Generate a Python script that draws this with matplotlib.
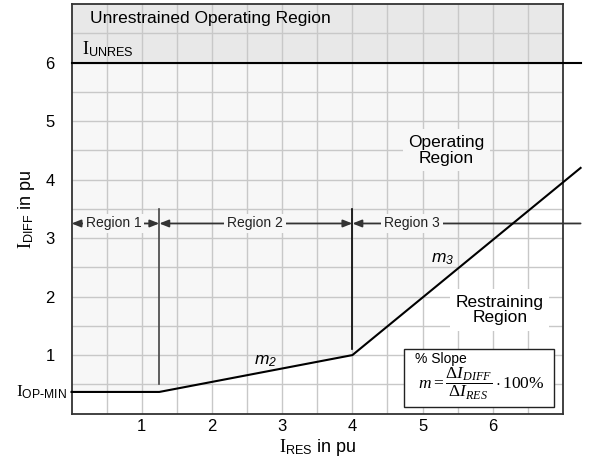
import matplotlib
matplotlib.use('Agg')
import matplotlib.pyplot as plt
from matplotlib.patches import Rectangle
from matplotlib.transforms import blended_transform_factory

plt.rcParams['font.family'] = ['Liberation Sans', 'DejaVu Sans']
plt.rcParams['mathtext.fontset'] = 'custom'
plt.rcParams['mathtext.rm'] = 'Liberation Serif'
plt.rcParams['mathtext.it'] = 'Liberation Serif:italic'
plt.rcParams['mathtext.sf'] = 'Liberation Sans'
plt.rcParams['mathtext.cal'] = 'Liberation Sans:italic'  # used for italic sans m2 / m3

# characteristic (pu)
char_x = [0, 1.25, 4.0, 7.25]
char_y = [0.37, 0.37, 1.0, 4.2]
i_unres = 6.0
i_op_min = 0.37
region_bounds = [0, 1.25, 4.0, 7.25]
region_names = ['Region 1', 'Region 2', 'Region 3']
xticks = [1, 2, 3, 4, 5, 6]
yticks = [1, 2, 3, 4, 5, 6]

fig = plt.figure(figsize=(6.14, 4.57), dpi=100)
ax = fig.add_axes([0.1165, 0.095, 0.8005, 0.896])
ax.set_xlim(0, 7)
ax.set_ylim(0, 7)
ax.set_facecolor('white')

# shaded regions
ax.axhspan(i_unres, 7, color='#e8e8e8', zorder=0, lw=0)
ax.fill_between(char_x, char_y, i_unres, color='#f7f7f7', zorder=0, lw=0)

# grid every 0.5
ax.set_xticks([v * 0.5 for v in range(1, 14)], minor=True)
ax.set_yticks([v * 0.5 for v in range(1, 14)], minor=True)
ax.set_xticks(xticks)
ax.set_yticks(yticks)
ax.set_axisbelow(True)
ax.grid(True, which='both', color='#c8c8c8', lw=1.0)
ax.tick_params(which='both', length=0)
ax.tick_params(axis='y', pad=12, labelsize=12)
ax.tick_params(axis='x', pad=4, labelsize=12)
for s in ax.spines.values():
    s.set_color('#333333')
    s.set_linewidth(1.3)

# characteristic + unres line
ax.plot(char_x, char_y, color='black', lw=1.5, clip_on=False, zorder=5)
ax.plot([0, 7.25], [i_unres, i_unres], color='black', lw=1.5, clip_on=False, zorder=5)

# region boundaries
ax.plot([1.25, 1.25], [0.5, 3.5], color='#444444', lw=1.2, zorder=4)
ax.plot([4.0, 4.0], [1.1, 3.5], color='black', lw=1.2, zorder=4)

# region arrows
arrow_y = 3.25
for i, name in enumerate(region_names):
    x0, x1 = region_bounds[i], region_bounds[i + 1]
    style = '<|-|>' if i < 2 else '<|-'
    ax.annotate('', xy=(x1, arrow_y), xytext=(x0, arrow_y),
                arrowprops=dict(arrowstyle=style + ',head_length=0.55,head_width=0.22',
                                color='#333333', lw=1.3, shrinkA=0, shrinkB=0),
                annotation_clip=False, zorder=4)
label_x = [0.6, 2.61, 4.85]
for lx, name in zip(label_x, region_names):
    ax.text(lx, arrow_y, name, ha='center', va='center', fontsize=10, color='#222222',
            bbox=dict(facecolor='#f7f7f7', edgecolor='none', pad=2), zorder=6)

# region texts
ax.text(0.26, 6.75, 'Unrestrained Operating Region', ha='left', va='center', fontsize=12.5)
ax.text(0.15, 6.07, r'$\mathrm{I}_{\mathsf{UNRES}}$', ha='left', va='bottom', fontsize=13)
ax.text(5.34, 4.5, 'Operating\nRegion', ha='center', va='center', fontsize=12.5,
        linespacing=1.05, bbox=dict(facecolor='#f7f7f7', edgecolor='none', pad=4), zorder=6)
ax.text(6.1, 1.77, 'Restraining\nRegion', ha='center', va='center', fontsize=12.5,
        linespacing=1.05, bbox=dict(facecolor='white', edgecolor='none', pad=4), zorder=6)

# slope labels
ax.text(2.76, 0.89, r'$\mathcal{m}_{\mathcal{2}}$', fontsize=12.5, ha='center', va='center', zorder=6)
ax.text(5.28, 2.64, r'$\mathcal{m}_{\mathcal{3}}$', fontsize=12.5, ha='center', va='center', zorder=6)

# I_OP-MIN label left of axis
trans = blended_transform_factory(ax.transAxes, ax.transData)
ax.text(-0.01, i_op_min, r'$\mathrm{I}_{\mathsf{OP\text{-}MIN}}$', transform=trans,
        ha='right', va='center', fontsize=12.5)

# slope formula box
ax.add_patch(Rectangle((4.74, 0.12), 2.13, 0.99, facecolor='white', edgecolor='#222222',
                       lw=1.0, zorder=6))
ax.text(4.89, 0.93, '% Slope', ha='left', va='center', fontsize=10, zorder=7)
ax.text(5.83, 0.5, r'$m = \dfrac{\Delta I_{DIFF}}{\Delta I_{RES}}\cdot 100\%$',
        ha='center', va='center', fontsize=12.5, zorder=7)

ax.set_xlabel(r'$\mathrm{I}_{\mathsf{RES}}$ in pu', fontsize=13, labelpad=2)
ax.set_ylabel(r'$\mathrm{I}_{\mathsf{DIFF}}$ in pu', fontsize=13, labelpad=6)

fig.savefig('out.png', dpi=100)
